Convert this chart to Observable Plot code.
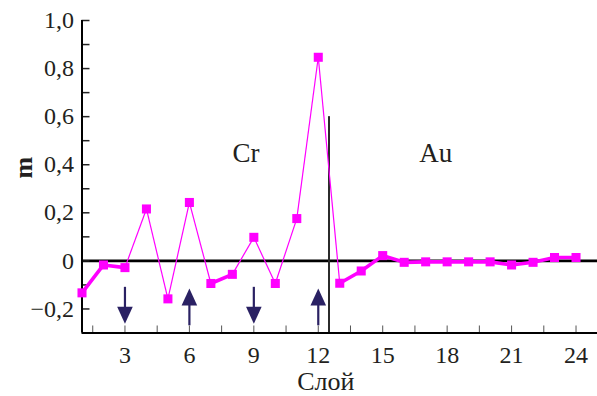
<!DOCTYPE html>
<html><head><meta charset="utf-8">
<script src="https://cdn.jsdelivr.net/npm/d3@7"></script>
<script src="https://cdn.jsdelivr.net/npm/@observablehq/plot@0.6"></script>
<style>body{margin:0;background:#fff;} svg{display:block}</style>
</head><body><div id="chart"></div>
<script>
// Data
const layers = [1,2,3,4,5,6,7,8,9,10,11,12,13,14,15,16,17,18,19,20,21,22,23,24];
const moments = [-0.133,-0.017,-0.028,0.216,-0.158,0.243,-0.094,-0.056,0.098,-0.094,0.176,0.847,
                 -0.093,-0.042,0.022,-0.006,-0.004,-0.004,-0.004,-0.004,-0.017,-0.006,0.014,0.014];
const xTickLabels = [3,6,9,12,15,18,21,24];
const xTickMarks = [1.5,3,4.5,6,7.5,9,10.5,12,13.5,15,16.5,18,19.5,21,22.5,24];
const yTickLabels = [-0.2,0,0.2,0.4,0.6,0.8,1.0];
const yTickMarks = [-0.2,-0.1,0,0.1,0.2,0.3,0.4,0.5,0.6,0.7,0.8,0.9,1.0];
const regionNames = ["Cr","Au"];
const regionX = [8.64,17.47];
const regionY = [0.446,0.446];
const interfaceX = [12.5];
const arrowLayers = [3,6,9,12];
const arrowDirections = ["down","up","down","up"];

const magenta = "#ff00ff";
const navy = "#2a2163";
const ink = "#231f20";
const font = "'Liberation Serif', 'Times New Roman', serif";

const pts = layers.map((x,i)=>({x, m: moments[i]}));
const segments = d3.pairs(pts).map(([a,b]) => ({x1:a.x, y1:a.m, x2:b.x, y2:b.m, steep: Math.abs(b.m-a.m) >= 0.15}));

const yMin = -0.3, yMax = 1.0;
const pxY = 240.3; // px per unit (for tick lengths)
const pxX = 21.5;

const arrows = arrowLayers.map((x,i)=>{
  const down = arrowDirections[i] === "down";
  return down ? {x, start: -0.11, tip: -0.262, down} : {x, start: -0.27, tip: -0.115, down};
});
const headDown = {draw(ctx){ ctx.moveTo(0,0); ctx.lineTo(-7.8,-17); ctx.lineTo(7.8,-17); ctx.closePath(); }};
const headUp = {draw(ctx){ ctx.moveTo(0,0); ctx.lineTo(-7.8,17); ctx.lineTo(7.8,17); ctx.closePath(); }};

const fmt = d => d === 0 ? "0" : d.toFixed(1).replace(".", ",").replace("-", "\u2212");

const chart = Plot.plot({
  width: 597, height: 396,
  marginLeft: 81.5, marginRight: 0, marginTop: 20, marginBottom: 63.5,
  style: {fontFamily: font, background: "#fff"},
  x: {domain: [1, 25], label: null},
  y: {domain: [yMin, yMax], label: null},
  marks: [
    // zero line
    Plot.ruleY([0], {x1: 1, x2: 25, stroke: "#000", strokeWidth: 2.6}),
    // interface line
    Plot.ruleX(interfaceX, {y1: yMin, y2: 0.6, stroke: "#2b2b2b", strokeWidth: 2}),
    // inner ticks
    Plot.ruleX(xTickMarks, {y1: yMin, y2: yMin + 7/pxY, stroke: "#555", strokeWidth: 1}),
    Plot.ruleY(yTickMarks, {x1: 1, x2: 1 + 8/pxX, stroke: "#222", strokeWidth: 1.5}),
    // axes lines
    Plot.ruleX([1], {y1: yMin, y2: yMax, stroke: "#000", strokeWidth: 2}),
    Plot.ruleY([yMin], {x1: 1, x2: 25, stroke: "#000", strokeWidth: 2}),
    Plot.axisX(xTickLabels, {tickSize: 0, tickPadding: 13, fontSize: 24, fill: ink, tickFormat: d => String(d)}),
    Plot.axisY(yTickLabels, {tickSize: 0, tickPadding: 8, fontSize: 24, fill: ink, tickFormat: fmt}),
    // data line
    Plot.link(segments.filter(d => !d.steep), {x1: "x1", y1: "y1", x2: "x2", y2: "y2", stroke: magenta, strokeWidth: 3.6, strokeLinecap: "round"}),
    Plot.link(segments.filter(d => d.steep), {x1: "x1", y1: "y1", x2: "x2", y2: "y2", stroke: magenta, strokeWidth: 1.2}),
    Plot.dot(pts, {x: "x", y: "m", symbol: "square", r: 5.1, fill: magenta, stroke: "none"}),
    // arrows
    Plot.ruleX(arrows, {x: "x", y1: "start", y2: d => d.down ? d.tip + 0.04 : d.tip - 0.04, stroke: navy, strokeWidth: 2.2}),
    Plot.dot(arrows.filter(d => d.down), {x: "x", y: "tip", symbol: headDown, fill: navy, stroke: "none"}),
    Plot.dot(arrows.filter(d => !d.down), {x: "x", y: "tip", symbol: headUp, fill: navy, stroke: "none"}),
    // region labels
    Plot.text(regionNames, {x: (d,i) => regionX[i], y: (d,i) => regionY[i], text: d => d, fontSize: 27, fill: ink, lineAnchor: "middle"}),
    // axis titles
    Plot.text(["Слой"], {frameAnchor: "bottom", text: d => d, textAnchor: "middle", dx: -14, dy: 49, fontSize: 26, fill: ink, lineAnchor: "middle"}),
    Plot.text(["m"], {frameAnchor: "left", text: d => d, textAnchor: "middle", rotate: -90, dx: -58, dy: -9, fontSize: 26, fontWeight: "bold", fill: ink, lineAnchor: "middle"})
  ]
});
document.getElementById("chart").appendChild(chart);
</script>
</body></html>
